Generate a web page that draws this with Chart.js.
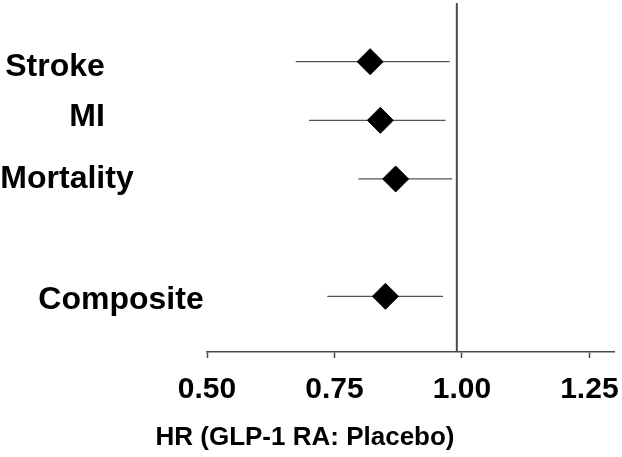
<!DOCTYPE html>
<html>
<head>
<meta charset="utf-8">
<script src="https://cdn.jsdelivr.net/npm/chart.js@4"></script>
<style>
    html, body { margin: 0; padding: 0; background: #fff; }
    #wrap { width: 622px; height: 457px; }
</style>
</head>
<body>
<div id="wrap"><canvas id="forestChart"></canvas></div>
<script>
// outcomes, top to bottom, with their row on the y scale
const outcomes = ["Stroke", "MI", "Mortality", "Composite"];
const rows = [5, 4, 3, 1];
// hazard ratios and 95% CI
const hr = [0.82, 0.84, 0.87, 0.85];
const ciLow = [0.674, 0.70, 0.797, 0.736];
const ciHigh = [0.976, 0.968, 0.981, 0.963];
const xTicks = [0.5, 0.75, 1.0, 1.25];
const refLine = 0.99;
const axisTitle = "HR (GLP-1 RA: Placebo)";

// where each outcome name sits (centre x, baseline offset) - layout only
const labelCenterX = [55, 87, 67, 121];
const labelBaseline = [14, 6, 9, 13];

const ink = "#000";
const lineGrey = "#4a4a4a";
const fontFamily = "'Liberation Sans', Arial, sans-serif";

const whiskers = outcomes.map((name, i) => ({
    type: "line",
    data: [
        { x: ciLow[i], y: rows[i] },
        { x: ciHigh[i], y: rows[i] },
    ],
    borderColor: "#555",
    borderWidth: 1.2,
    pointRadius: 0,
    order: 2,
}));

// outcome names on the left and the axis title under the ticks
const textLayer = {
    id: "textLayer",
    afterDraw(chart) {
        const c = chart.ctx;
        const yScale = chart.scales.y;
        c.save();
        c.fillStyle = ink;
        c.textAlign = "center";
        c.textBaseline = "alphabetic";
        c.font = "bold 32px " + fontFamily;
        outcomes.forEach((name, i) => {
            c.fillText(name, labelCenterX[i], yScale.getPixelForValue(rows[i]) + labelBaseline[i]);
        });
        c.font = "bold 26px " + fontFamily;
        c.fillText(axisTitle, 305, 445);
        c.restore();
    },
};

const ctx = document.getElementById("forestChart").getContext("2d");

new Chart(ctx, {
    type: "scatter",
    data: {
        datasets: [
            {
                type: "line",
                data: [
                    { x: refLine, y: 0 },
                    { x: refLine, y: 6 },
                ],
                borderColor: lineGrey,
                borderWidth: 2,
                pointRadius: 0,
                order: 3,
            },
            ...whiskers,
            {
                data: hr.map((v, i) => ({ x: v, y: rows[i] })),
                pointStyle: "rectRot",
                pointRadius: 13,
                pointHoverRadius: 13,
                backgroundColor: ink,
                borderColor: ink,
                borderWidth: 1,
                order: 1,
            },
        ],
    },
    options: {
        responsive: true,
        maintainAspectRatio: false,
        animation: false,
        events: [],
        layout: {
            autoPadding: false,
            padding: { left: 207, right: 7, top: 3, bottom: 35 },
        },
        plugins: {
            legend: { display: false },
            tooltip: { enabled: false },
        },
        scales: {
            x: {
                type: "linear",
                min: 0.5,
                max: 1.3,
                afterBuildTicks: (axis) => {
                    axis.ticks = xTicks.map((v) => ({ value: v }));
                },
                ticks: {
                    color: ink,
                    padding: 3,
                    font: { family: fontFamily, size: 30, weight: "bold", lineHeight: 1.933 },
                    callback: (v) => Number(v).toFixed(2),
                },
                grid: {
                    drawOnChartArea: false,
                    tickLength: 6,
                    tickWidth: 1.5,
                    tickColor: lineGrey,
                },
                border: { color: lineGrey, width: 1.5 },
            },
            y: {
                type: "linear",
                display: false,
                min: 0.05,
                max: 6,
            },
        },
    },
    plugins: [textLayer],
});
</script>
</body>
</html>
